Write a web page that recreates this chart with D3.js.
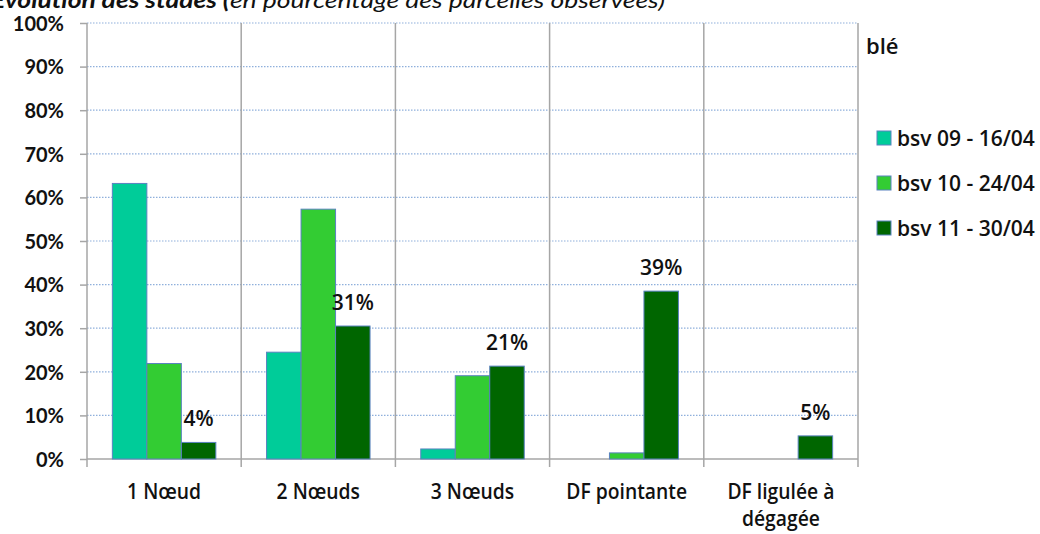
<html>
<head>
<script src="https://d3js.org/d3.v7.min.js"></script>
<style>
  body { margin: 0; background: #fff; }
  text { font-family: Lato, "Open Sans", sans-serif; fill: #111; }
  .lbl { font-family: "Open Sans", Lato, sans-serif; font-weight: 600; }
</style>
</head>
<body>
<svg id="chart" width="1040" height="534"></svg>
<script>
    const categories = ["1 Nœud", "2 Nœuds", "3 Nœuds", "DF pointante", "DF ligulée à\ndégagée"];
    const seriesNames = ["bsv 09 - 16/04", "bsv 10 - 24/04", "bsv 11 - 30/04"];
    const bsv09 = [63.2, 24.5, 2.3, 0, 0];
    const bsv10 = [21.9, 57.3, 19.1, 1.4, 0];
    const bsv11 = [3.8, 30.5, 21.3, 38.5, 5.3];
    const yTicks = [0, 10, 20, 30, 40, 50, 60, 70, 80, 90, 100];
    const colors = ["#00CC99", "#33CC33", "#006600"];

    const svg = d3.select("#chart");
    const plotL = 87, plotR = 858, plotT = 23, plotB = 459;

    const x = d3.scaleBand().domain(categories).range([plotL, plotR]).padding(0);
    const xs = d3.scaleBand().domain([0, 1, 2]).range([0, x.bandwidth()])
        .paddingInner(0).paddingOuter(0.735);
    const y = d3.scaleLinear().domain([0, 100]).range([plotB, plotT]);

    // title (cut off at top like the original)
    const title = svg.append("text")
        .attr("x", -9).attr("y", 8)
        .style("font-size", "22px")
        .attr("textLength", 674).attr("lengthAdjust", "spacingAndGlyphs");
    title.append("tspan").style("font-weight", "bold").style("font-style", "italic")
        .text("Evolution des stades (");
    title.append("tspan").style("font-style", "italic").text("en pourcentage des parcelles observées)");

    // horizontal dotted grid
    svg.append("g").selectAll("line")
        .data(yTicks.filter(d => d > 0))
        .join("line")
        .attr("x1", plotL).attr("x2", plotR)
        .attr("y1", d => y(d)).attr("y2", d => y(d))
        .attr("stroke", "#8fb0dc").attr("stroke-width", 1.2)
        .attr("stroke-dasharray", "1.5,1.5");

    // vertical category separators
    svg.append("g").selectAll("line")
        .data(categories.slice(1).map(c => x(c)).concat([plotR]))
        .join("line")
        .attr("x1", d => d).attr("x2", d => d)
        .attr("y1", plotT).attr("y2", plotB + 8)
        .attr("stroke", "#a6a6a6").attr("stroke-width", 1.5);

    // axes
    const yAxis = d3.axisLeft(y).tickValues(yTicks).tickSize(7).tickPadding(16)
        .tickFormat(d => d + "%");
    const gy = svg.append("g").attr("transform", `translate(${plotL},0)`).call(yAxis);
    gy.select(".domain").attr("stroke", "#a6a6a6").attr("stroke-width", 1.5)
        .attr("d", `M0,${plotT}V${plotB + 8}`);
    gy.selectAll(".tick line").attr("stroke", "#a6a6a6").attr("stroke-width", 1.5);
    gy.selectAll(".tick text").style("font-size", "20px").style("font-weight", "bold")
        .style("font-family", "Lato, sans-serif").attr("fill", "#111").attr("dy", "0.36em");

    svg.append("line").attr("x1", plotL).attr("x2", plotR)
        .attr("y1", plotB).attr("y2", plotB)
        .attr("stroke", "#a6a6a6").attr("stroke-width", 1.5);

    // bars
    const rows = categories.map((c, i) => ({ c, vals: [bsv09[i], bsv10[i], bsv11[i]] }));
    const grp = svg.append("g").selectAll("g")
        .data(rows).join("g")
        .attr("transform", d => `translate(${x(d.c)},0)`);
    grp.selectAll("rect")
        .data(d => d.vals.map((v, s) => ({ v, s })).filter(e => e.v > 0))
        .join("rect")
        .attr("x", d => xs(d.s)).attr("width", xs.bandwidth())
        .attr("y", d => y(d.v)).attr("height", d => plotB - y(d.v))
        .attr("fill", d => colors[d.s])
        .attr("stroke", "#5a82c0").attr("stroke-width", 1);

    // labels on last series
    grp.append("text")
        .attr("class", "lbl")
        .attr("x", xs(2) + xs.bandwidth() / 2)
        .attr("y", d => y(d.vals[2]) - 16)
        .attr("text-anchor", "middle")
        .style("font-size", "21px")
        .text(d => Math.round(d.vals[2]) + "%");

    // category labels (tall, narrow like the original face)
    svg.append("g").selectAll("text")
        .data(categories).join("text")
        .attr("class", "lbl")
        .attr("text-anchor", "middle")
        .attr("transform", d => `translate(${x(d) + x.bandwidth() / 2},499) scale(0.92,1)`)
        .style("font-size", "21px")
        .selectAll("tspan")
        .data(d => d.split("\n"))
        .join("tspan")
        .attr("x", 0).attr("y", (d, i) => i * 27)
        .text(d => d);

    // legend
    svg.append("text").attr("class", "lbl").attr("x", 866).attr("y", 54)
        .style("font-size", "22px").text("blé");
    const lg = svg.append("g").selectAll("g")
        .data(seriesNames).join("g")
        .attr("transform", (d, i) => `translate(877,${131 + i * 45})`);
    lg.append("rect").attr("width", 14).attr("height", 14)
        .attr("fill", (d, i) => colors[i]).attr("stroke", "#5a82c0").attr("stroke-width", 1);
    lg.append("text").attr("class", "lbl").attr("x", 20).attr("y", 14.5)
        .style("font-size", "21px").text(d => d);
</script>
</body>
</html>
